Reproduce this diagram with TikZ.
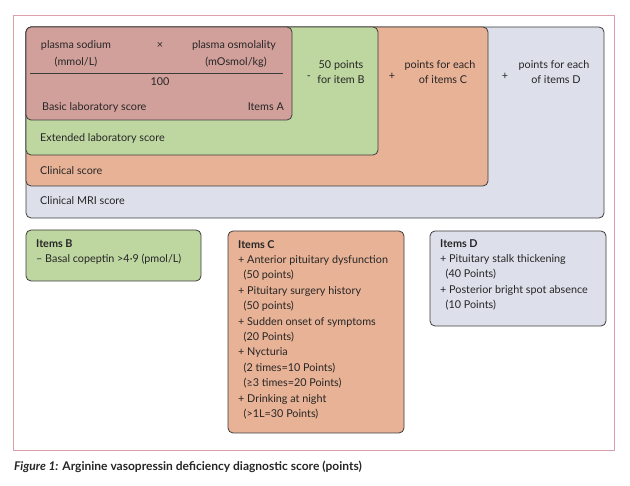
\documentclass[tikz,border=0pt]{standalone}
\usepackage{fontspec}
\setmainfont{Lato}
\definecolor{cA}{RGB}{210,160,155}
\definecolor{cB}{RGB}{190,214,160}
\definecolor{cC}{RGB}{232,178,150}
\definecolor{cD}{RGB}{221,224,234}
\definecolor{bd}{RGB}{60,60,60}
\definecolor{fr}{RGB}{220,160,170}
\begin{document}
\begin{tikzpicture}[x=1pt,y=-1pt,font=\fontsize{10.8}{15.4}\selectfont,
  box/.style={draw=bd,line width=0.8pt,rounded corners=5pt},
  t/.style={inner sep=0pt,text=black!85},
  l/.style={t,anchor=base west},
  c/.style={t,anchor=base}]
\useasboundingbox (0,0) rectangle (630,486);
\draw[fr,line width=0.8pt] (13,15) rectangle (614,450);
\draw[box,fill=cD] (26,27) rectangle (604,218);
\draw[box,fill=cC] (26,27) rectangle (488,186);
\draw[box,fill=cB] (26,27) rectangle (378,155);
\draw[box,fill=cA] (26,27) rectangle (292,120);
\node[c] (s1) at (76,49) {plasma sodium};
\node[c] (s1b) at (76,66) {(mmol/L)};
\node[c] (x) at (160,49) {×};
\node[c] (s2) at (234,49) {plasma osmolality};
\node[c] (s2b) at (236,66) {(mOsmol/kg)};
\draw[bd,line width=0.6pt] (30,73) -- (283,73);
\node[c] (h) at (160,86) {100};
\node[l] (ba) at (42,111) {Basic laboratory score};
\node[t,anchor=base east] (ia) at (284,111) {Items A};
\node[l] (ex) at (40,142) {Extended laboratory score};
\node[l] (cs) at (40,175) {Clinical score};
\node[l] (mr) at (40,205) {Clinical MRI score};
\node[c] (m1) at (309,80) {-};
\node[c] (pb) at (341,69) {50 points};
\node[c] (pb2) at (341,84) {for item B};
\node[c] (p1) at (392,80) {+};
\node[c] (pc) at (440,69) {points for each};
\node[c] (pc2) at (443,84) {of items C};
\node[c] (p2) at (505,80) {+};
\node[c] (pd) at (554,69) {points for each};
\node[c] (pd2) at (556,84) {of items D};
\draw[box,fill=cB] (26,230) rectangle (201,281);
\draw[box,fill=cC] (228,231) rectangle (404,433);
\draw[box,fill=cD] (430,231) rectangle (606,326);
\node[t,anchor=north west,align=left] (ib) at (36,239) {\textbf{Items B}\\– Basal copeptin >4·9 (pmol/L)};
\node[t,anchor=north west,align=left] (ic) at (238,240) {\textbf{Items C}\\+ Anterior pituitary dysfunction\\\ \ (50 points)\\+ Pituitary surgery history\\\ \ (50 points)\\+ Sudden onset of symptoms\\\ \ (20 Points)\\+ Nycturia\\\ \ (2 times=10 Points)\\\ \ (≥3 times=20 Points)\\+ Drinking at night\\\ \ (>1L=30 Points)};
\node[t,anchor=north west,align=left] (id) at (440,239) {\textbf{Items D}\\+ Pituitary stalk thickening\\\ \ (40 Points)\\+ Posterior bright spot absence\\\ \ (10 Points)};
\node[t,anchor=base west,font=\fontsize{12}{14}\selectfont\bfseries] (cap) at (14,471) {\textit{Figure 1:} Arginine vasopressin deficiency diagnostic score (points)};
\end{tikzpicture}
\end{document}
